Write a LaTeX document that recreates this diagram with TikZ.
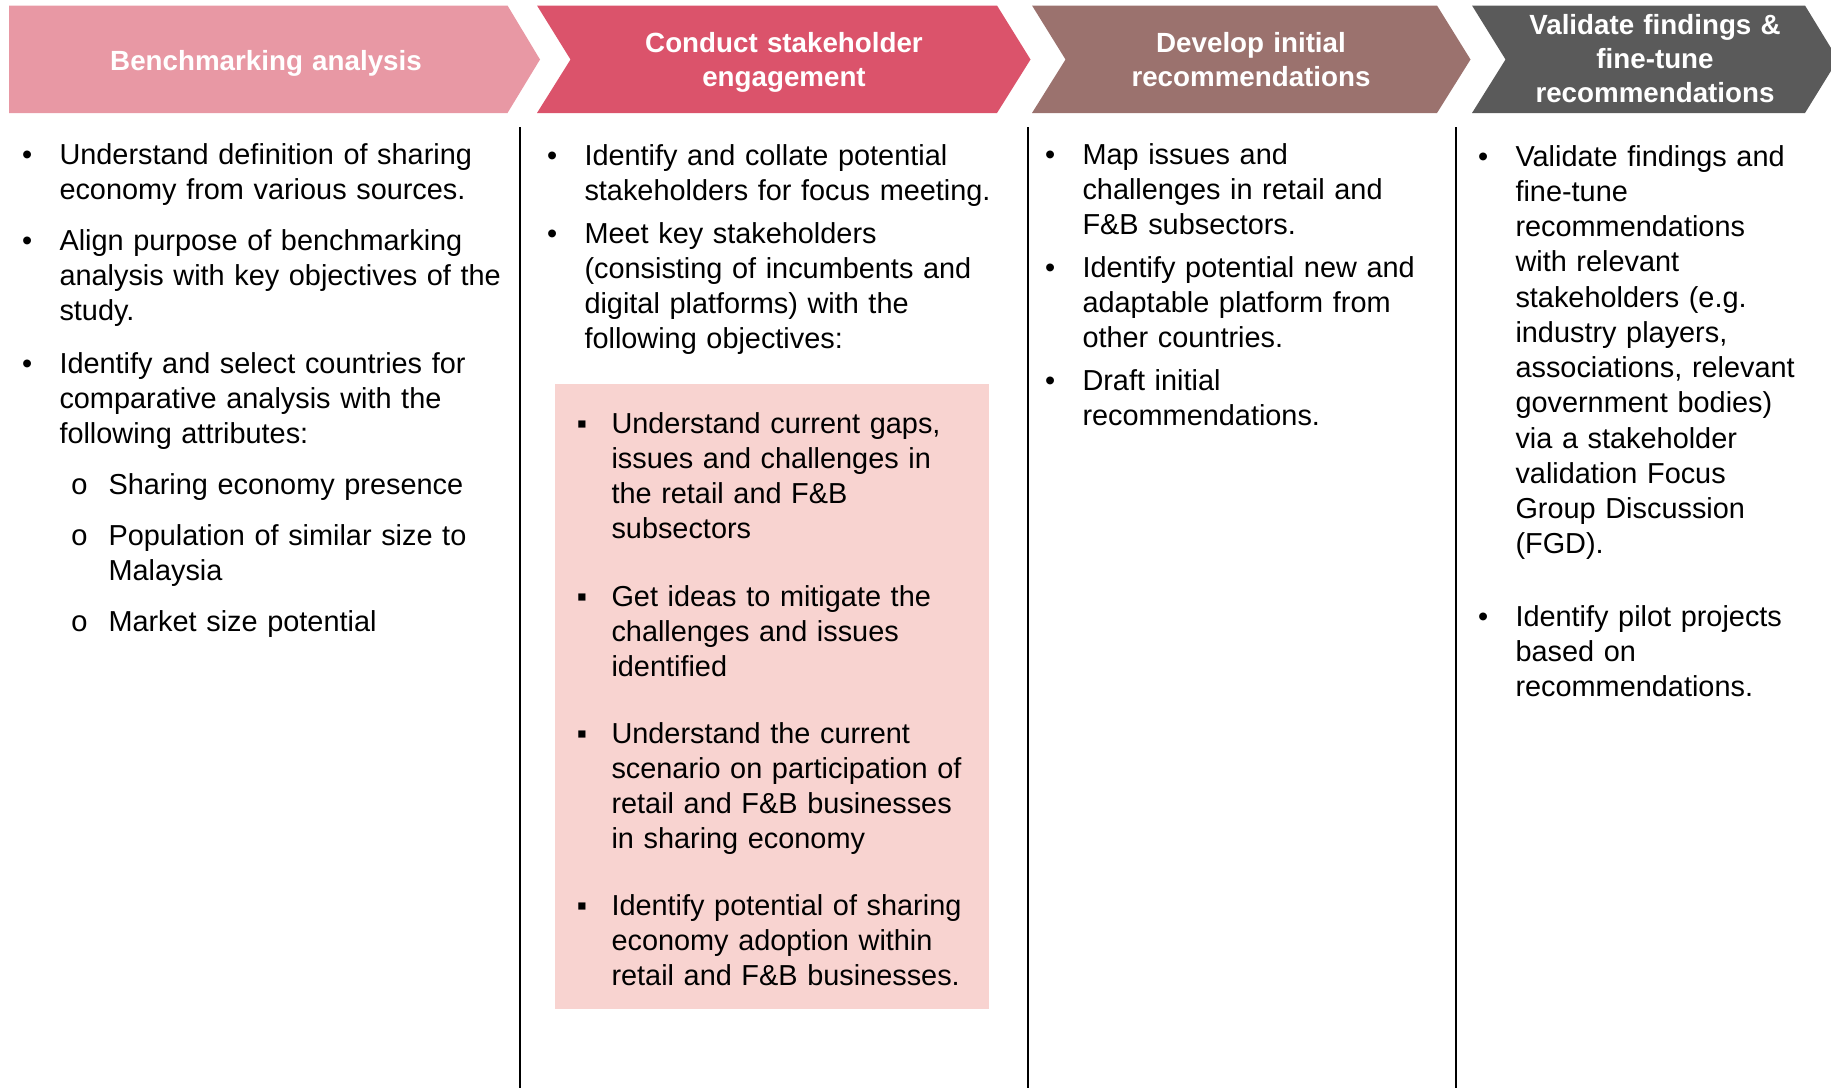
\documentclass[tikz,border=0pt]{standalone}
\usepackage{fontspec}
\setmainfont{Liberation Sans}
\newfontfamily\ringfont{Liberation Mono}
\definecolor{benchpink}{RGB}{232,152,164}
\definecolor{engagered}{RGB}{219,83,107}
\definecolor{developbrown}{RGB}{155,114,110}
\definecolor{validategrey}{RGB}{90,90,90}
\definecolor{objectivepink}{RGB}{248,211,208}
\usetikzlibrary{positioning}

\begin{document}
\begin{tikzpicture}[x=0.4pt, y=-0.4pt,
    stage/.style={anchor=base, inner sep=0pt, text width=170pt, align=center, text=white,
      font=\fontsize{11.1pt}{13.6pt}\selectfont\bfseries},
    item/.style={anchor=base west, inner sep=0pt, text width=190pt, align=left,
      font=\fontsize{11.55pt}{14.1pt}\selectfont},
    dot/.style={inner sep=0pt, font=\fontsize{11.55pt}{14.1pt}\selectfont},
    ring/.style={inner sep=0pt, font=\fontsize{11.75pt}{14.1pt}\ringfont},
    divider/.style={line width=1pt}]
  \useasboundingbox (0,0) rectangle (1831,1088);

  % process arrows
  \fill[benchpink] (9,5.5) -- (507.5,5.5) -- (540,59.5) -- (507.5,113) -- (9,113) -- cycle;
  \fill[engagered] (537,5.5) -- (997,5.5) -- (1030.5,59.5) -- (997,113) -- (537,113) -- (570.5,59.5) -- cycle;
  \fill[developbrown] (1032,5.5) -- (1437,5.5) -- (1470.5,59.5) -- (1437,113) -- (1032,113) -- (1065.5,59.5) -- cycle;
  \fill[validategrey] (1472,5.5) -- (1805,5.5) -- (1838,59.5) -- (1805,113) -- (1472,113) -- (1505.5,59.5) -- cycle;

  \node[stage] (bench) at (266,70) {Benchmarking analysis};
  \node[stage] (engage) at (784,52) {Conduct stakeholder\\engagement};
  \node[stage] (develop) at (1251,52) {Develop initial\\recommendations};
  \node[stage] (validate) at (1655,34) {Validate findings \&\\fine-tune\\recommendations};

  \draw[divider] (520,127) -- (520,1088);
  \draw[divider] (1028,127) -- (1028,1088);
  \draw[divider] (1456,127) -- (1456,1088);

  \fill[objectivepink] (555,384) rectangle (989,1009);

  % benchmarking
  \node[item] (b1a) at (59,164) {Understand definition of sharing\\economy from various sources.};
  \node[item] (b1b) at (59,250) {Align purpose of benchmarking\\analysis with key objectives of the\\study.};
  \node[item] (b1c) at (59,373) {Identify and select countries for\\comparative analysis with the\\following attributes:};
  \node[item] (s1a) at (108,494) {Sharing economy presence};
  \node[item] (s1b) at (108,545) {Population of similar size to\\Malaysia};
  \node[item] (s1c) at (108,631) {Market size potential};

  % engagement
  \node[item] (b2a) at (584,165) {Identify and collate potential\\stakeholders for focus meeting.};
  \node[item] (b2b) at (584,243) {Meet key stakeholders\\(consisting of incumbents and\\digital platforms) with the\\following objectives:};
  \node[item] (o2a) at (611,433) {Understand current gaps,\\issues and challenges in\\the retail and F\&B\\subsectors};
  \node[item] (o2b) at (611,606) {Get ideas to mitigate the\\challenges and issues\\identified};
  \node[item] (o2c) at (611,743) {Understand the current\\scenario on participation of\\retail and F\&B businesses\\in sharing economy};
  \node[item] (o2d) at (611,915) {Identify potential of sharing\\economy adoption within\\retail and F\&B businesses.};

  % recommendations
  \node[item] (b3a) at (1082,164) {Map issues and\\challenges in retail and\\F\&B subsectors.};
  \node[item] (b3b) at (1082,277) {Identify potential new and\\adaptable platform from\\other countries.};
  \node[item] (b3c) at (1082,390) {Draft initial\\recommendations.};

  % validation
  \node[item] (b4a) at (1515,166) {Validate findings and\\fine-tune\\recommendations\\with relevant\\stakeholders (e.g.\\industry players,\\associations, relevant\\government bodies)\\via a stakeholder\\validation Focus\\Group Discussion\\(FGD).};
  \node[item] (b4b) at (1515,626) {Identify pilot projects\\based on\\recommendations.};

  \foreach \t in {b1a,b1b,b1c,b2a,b2b,b3a,b3b,b3c,b4a,b4b}
    \node[dot, base left=10.5pt of \t.base west] (dot-\t) {•};
  \foreach \t in {s1a,s1b,s1c}
    \node[ring, base left=7.7pt of \t.base west] (dot-\t) {o};
  \foreach \t in {o2a,o2b,o2c,o2d}
    \node[dot, base left=9.4pt of \t.base west] (dot-\t) {▪};
\end{tikzpicture}
\end{document}
